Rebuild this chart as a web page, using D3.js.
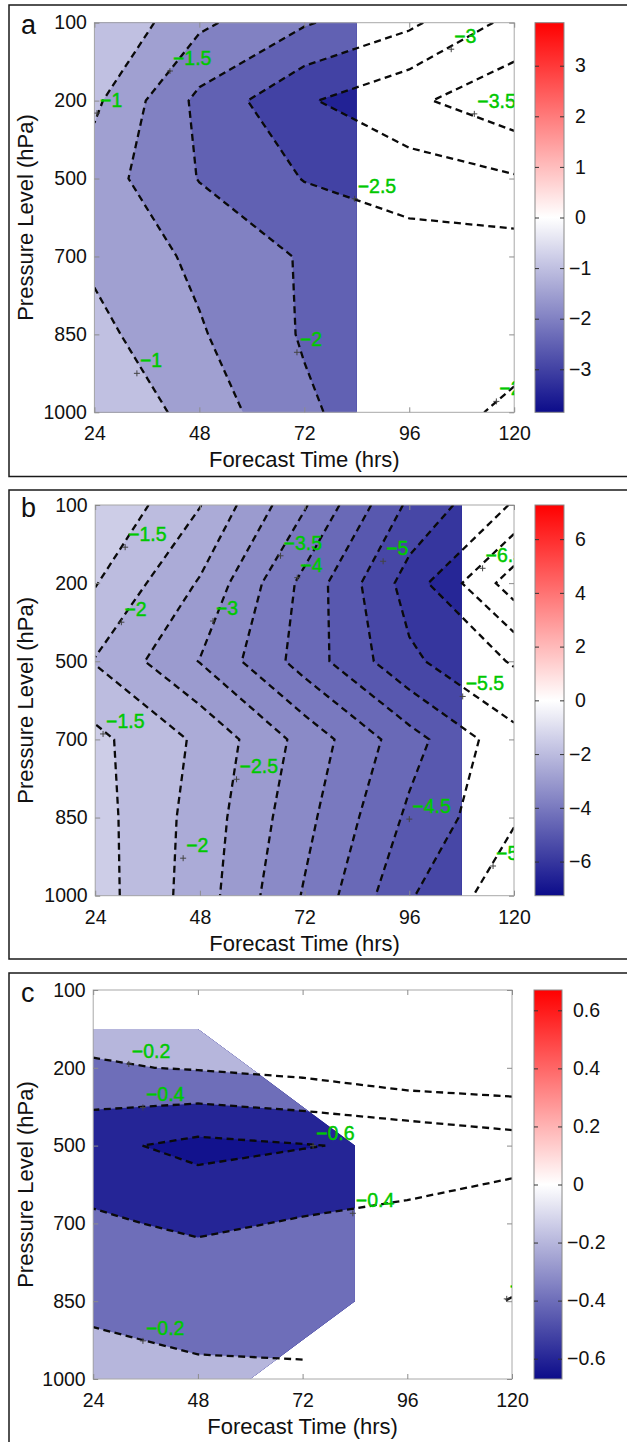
<!DOCTYPE html>
<html>
<head>
<meta charset="utf-8">
<script src="https://cdn.jsdelivr.net/npm/d3@7"></script>
<style>
  body { margin: 0; background: #fff; }
  svg { display: block; font-family: "Liberation Sans", Arial, Helvetica, sans-serif; }
</style>
</head>
<body>
<svg id="fig" width="627" height="1442"></svg>
<script>
// grid shared by all three panels
const forecastHours = [24, 48, 72, 96, 120];
const pressureLevels = [100, 200, 500, 700, 850, 1000];

// panel a: rows = pressure levels (top to bottom), cols = forecast hours
const valuesA = [
  [-0.47, -1.40, -1.95, -2.40, -3.15],
  [-0.90, -2.125, -2.94, -3.40, -3.85],
  [-1.25, -2.02, -2.52, -2.74, -2.95],
  [-1.10, -1.61, -2.05, -2.27, -2.25],
  [-0.85, -1.45, -2.05, -2.20, -2.32],
  [-0.51, -1.21, -1.91, -2.40, -1.84]
];
// 1 where the shaded field is defined
const maskA = [
  [1, 1, 1, 0, 0],
  [1, 1, 1, 0, 0],
  [1, 1, 1, 0, 0],
  [1, 1, 1, 0, 0],
  [1, 1, 1, 0, 0],
  [1, 1, 1, 0, 0]
];
const levelsA = [-3.5, -3, -2.5, -2, -1.5, -1];
const barTicksA = [-3, -2, -1, 0, 1, 2, 3];
const colorMaxA = 3.85;
// [level, col, row] in grid units
const labelsA = [
  [-1, 0.025, 1.16], [-1.5, 0.72, 0.62], [-2.5, 2.48, 2.26], [-2, 1.93, 4.23],
  [-1, 0.405, 4.5], [-3, 3.4, 0.34], [-3.5, 3.62, 1.17], [-2, 3.83, 4.86]
];

// panel b
const valuesB = [
  [-1.00, -1.98, -3.45, -5.10, -6.05],
  [-1.47, -2.55, -4.15, -5.72, -7.27],
  [-2.03, -3.02, -4.22, -5.40, -6.05],
  [-1.37, -2.09, -3.18, -4.30, -5.35],
  [-1.30, -2.20, -3.35, -4.60, -5.45],
  [-1.27, -2.25, -3.55, -4.95, -5.85]
];
const maskB = [
  [1, 1, 1, 1, 0],
  [1, 1, 1, 1, 0],
  [1, 1, 1, 1, 0],
  [1, 1, 1, 1, 0],
  [1, 1, 1, 1, 0],
  [1, 1, 1, 1, 0]
];
const levelsB = [-7, -6.5, -6, -5.5, -5, -4.5, -4, -3.5, -3, -2.5, -2, -1.5];
const barTicksB = [-6, -4, -2, 0, 2, 4, 6];
const colorMaxB = 7.27;
const labelsB = [
  [-1.5, 0.286, 0.54], [-2, 0.25, 1.5], [-1.5, 0.075, 2.93], [-2, 0.84, 4.52],
  [-3.5, 1.77, 0.65], [-4, 1.93, 0.93], [-3, 1.125, 1.485], [-2.5, 1.35, 3.51],
  [-5, 2.75, 0.72], [-4.5, 3.0, 4.02], [-5.5, 3.51, 2.45], [-6.5, 3.7, 0.81],
  [-5.5, 3.8, 4.62]
];

// panel c (NaN = no data for the contour lines)
const valuesC = [
  [-0.066, -0.05, -0.03, -0.02, -0.01],
  [-0.22, -0.186, -0.14, -0.051, -0.028],
  [-0.553, -0.653, -0.61, -0.564, -0.493],
  [-0.364, -0.441, -0.38, -0.33, -0.272],
  [-0.25, -0.213, -0.26, -0.25, -0.196],
  [-0.10, -0.194, -0.18, NaN, NaN]
];
const maskC = [
  [0, 0, 0, 0, 0],
  [1, 1, 0, 0, 0],
  [1, 1, 1, 0, 0],
  [1, 1, 1, 0, 0],
  [1, 1, 1, 0, 0],
  [1, 1, 0, 0, 0]
];
const levelsC = [-0.6, -0.4, -0.2];
const barTicksC = [-0.6, -0.4, -0.2, 0, 0.2, 0.4, 0.6];
const colorMaxC = 0.67;
const labelsC = [
  [-0.2, 0.34, 0.95], [-0.4, 0.475, 1.51], [-0.6, 2.1, 2.0], [-0.4, 2.48, 2.87],
  [-0.2, 0.475, 4.51], [-0.2, 3.95, 3.97]
];

// page layout (pixels)
const layout = [
  { id: "a", values: valuesA, mask: maskA, levels: levelsA, ticks: barTicksA, cmax: colorMaxA, labels: labelsA,
    boxTop: 5, boxBottom: 476.5, plot: [94.4, 22.7, 514.2, 412.3], bar: [535, 564] },
  { id: "b", values: valuesB, mask: maskB, levels: levelsB, ticks: barTicksB, cmax: colorMaxB, labels: labelsB,
    boxTop: 490, boxBottom: 959, plot: [95.2, 505, 514, 895.7], bar: [535, 564] },
  { id: "c", values: valuesC, mask: maskC, levels: levelsC, ticks: barTicksC, cmax: colorMaxC, labels: labelsC,
    boxTop: 973, boxBottom: 1470, plot: [93.2, 990, 512, 1379], bar: [534, 562] }
];

const NAVY = "#0c0c8a";
const labelGreen = "#00c800";
const fmt = d3.format("");
const svg = d3.select("#fig");

function colorFor(v, cmax) {
  const t = Math.min(1, Math.abs(v) / cmax);
  return v < 0 ? d3.interpolateRgb("#ffffff", NAVY)(t) : d3.interpolateRgb("#ffffff", "#ff0000")(t);
}

// marching squares on the grid, skipping cells that touch a NaN, joined into polylines
function traceLevel(grid, level) {
  const rows = grid.length, cols = grid[0].length;
  const segs = [];
  const cross = (p, q, P, Q) => {
    const t = (level - p) / (q - p);
    return [P[0] + t * (Q[0] - P[0]), P[1] + t * (Q[1] - P[1])];
  };
  for (let j = 0; j < rows - 1; j++) {
    for (let i = 0; i < cols - 1; i++) {
      const a = grid[j][i], b = grid[j][i + 1], c = grid[j + 1][i + 1], d = grid[j + 1][i];
      if ([a, b, c, d].some(v => isNaN(v))) continue;
      const pts = [];
      [[a, b, [i, j], [i + 1, j]], [b, c, [i + 1, j], [i + 1, j + 1]],
       [d, c, [i, j + 1], [i + 1, j + 1]], [a, d, [i, j], [i, j + 1]]].forEach(([p, q, P, Q]) => {
        if ((p >= level) !== (q >= level)) pts.push(cross(p, q, P, Q));
      });
      if (pts.length === 2) segs.push(pts);
      else if (pts.length === 4) { segs.push([pts[0], pts[3]]); segs.push([pts[1], pts[2]]); }
    }
  }
  const key = p => p[0].toFixed(6) + "," + p[1].toFixed(6);
  const used = new Array(segs.length).fill(false);
  const lines = [];
  for (let s = 0; s < segs.length; s++) {
    if (used[s]) continue;
    used[s] = true;
    const line = [segs[s][0], segs[s][1]];
    let grown = true;
    while (grown) {
      grown = false;
      for (let k = 0; k < segs.length; k++) {
        if (used[k]) continue;
        const [p, q] = segs[k];
        const head = key(line[0]), tail = key(line[line.length - 1]);
        if (key(p) === tail) { line.push(q); }
        else if (key(q) === tail) { line.push(p); }
        else if (key(p) === head) { line.unshift(q); }
        else if (key(q) === head) { line.unshift(p); }
        else continue;
        used[k] = true;
        grown = true;
      }
    }
    lines.push(line);
  }
  return lines;
}

function drawPanel(cfg) {
  const [left, top, right, bottom] = cfg.plot;
  const rows = cfg.values.length, cols = cfg.values[0].length;
  const x = d3.scaleLinear().domain([0, cols - 1]).range([left, right]);
  const y = d3.scaleLinear().domain([0, rows - 1]).range([top, bottom]);
  const g = svg.append("g");

  // outer frame of the panel
  g.append("rect")
    .attr("x", 9).attr("y", cfg.boxTop)
    .attr("width", 640).attr("height", cfg.boxBottom - cfg.boxTop)
    .attr("fill", "none").attr("stroke", "#1a1a1a").attr("stroke-width", 1.5);

  const defs = g.append("defs");
  defs.append("clipPath").attr("id", "plot-" + cfg.id)
    .append("rect").attr("x", left).attr("y", top).attr("width", right - left).attr("height", bottom - top);

  // d3.contours puts value k at k + 0.5
  const proj = d3.geoTransform({
    point(px, py) { this.stream.point(x(px - 0.5), y(py - 0.5)); }
  });
  const path = d3.geoPath(proj);

  const maskShape = d3.contours().size([cols, rows]).thresholds([0.5])(cfg.mask.flat())[0];
  defs.append("clipPath").attr("id", "mask-" + cfg.id)
    .append("path").attr("d", path(maskShape));

  // shaded bands
  const fillGrid = cfg.values.map(row => {
    let last = 0;
    return row.map(v => isNaN(v) ? last : (last = v));
  });
  const flat = fillGrid.flat();
  const dataMin = d3.min(flat);
  const fillG = g.append("g").attr("clip-path", `url(#plot-${cfg.id})`)
    .append("g").attr("clip-path", `url(#mask-${cfg.id})`);
  fillG.append("rect")
    .attr("x", left).attr("y", top).attr("width", right - left).attr("height", bottom - top)
    .attr("fill", colorFor(dataMin, cfg.cmax));
  fillG.selectAll("path.band")
    .data(d3.contours().size([cols, rows]).thresholds(cfg.levels)(flat))
    .join("path")
    .attr("class", "band")
    .attr("d", path)
    .attr("fill", d => colorFor(d.value, cfg.cmax));

  // dashed contour lines
  const line = d3.line().x(p => x(p[0])).y(p => y(p[1]));
  const lineG = g.append("g").attr("clip-path", `url(#plot-${cfg.id})`);
  cfg.levels.forEach(level => {
    traceLevel(cfg.values, level).forEach(pts => {
      lineG.append("path")
        .attr("d", line(pts))
        .attr("fill", "none")
        .attr("stroke", "#0a0a0a")
        .attr("stroke-width", 2.3)
        .attr("stroke-dasharray", "7,4.5");
    });
  });

  // plot box and inward ticks
  g.append("rect")
    .attr("x", left).attr("y", top).attr("width", right - left).attr("height", bottom - top)
    .attr("fill", "none").attr("stroke", "#a8a8a8").attr("stroke-width", 1);

  const idxX = d3.range(cols), idxY = d3.range(rows);
  const styleAxis = sel => {
    sel.select(".domain").remove();
    sel.selectAll(".tick line").attr("stroke", "#8c8c8c");
    sel.selectAll(".tick text").attr("fill", "#111").style("font-size", "19.5px");
  };
  g.append("g").attr("transform", `translate(0,${bottom})`)
    .call(d3.axisBottom(x).tickValues(idxX).tickFormat(i => forecastHours[i]).tickSizeInner(-5).tickSizeOuter(0).tickPadding(14.2))
    .call(styleAxis);
  g.append("g").attr("transform", `translate(0,${top})`)
    .call(d3.axisTop(x).tickValues(idxX).tickFormat("").tickSizeInner(-5).tickSizeOuter(0))
    .call(styleAxis);
  g.append("g").attr("transform", `translate(${left},0)`)
    .call(d3.axisLeft(y).tickValues(idxY).tickFormat(j => pressureLevels[j]).tickSizeInner(-5).tickSizeOuter(0).tickPadding(7.5))
    .call(styleAxis);
  g.append("g").attr("transform", `translate(${right},0)`)
    .call(d3.axisRight(y).tickValues(idxY).tickFormat("").tickSizeInner(-5).tickSizeOuter(0))
    .call(styleAxis);

  // contour labels
  const labG = g.append("g").attr("clip-path", `url(#plot-${cfg.id})`);
  cfg.labels.forEach(([level, c, r]) => {
    const px = x(c), py = y(r);
    labG.append("path")
      .attr("d", `M${px - 3},${py}H${px + 3}M${px},${py - 3}V${py + 3}`)
      .attr("stroke", "#444").attr("stroke-width", 1);
    labG.append("text")
      .attr("x", px + 3).attr("y", py - 6)
      .attr("fill", labelGreen)
      .attr("stroke", labelGreen).attr("stroke-width", 0.45)
      .style("font-size", "19.5px")
      .text(fmt(level));
  });

  // axis titles and panel letter
  g.append("text")
    .attr("x", (left + right) / 2).attr("y", bottom + 55)
    .attr("text-anchor", "middle").style("font-size", "22px").attr("fill", "#111")
    .text("Forecast Time (hrs)");
  const cy = (top + bottom) / 2;
  g.append("text")
    .attr("transform", `translate(33,${cy}) rotate(-90)`)
    .attr("text-anchor", "middle").style("font-size", "22px").attr("fill", "#111")
    .text("Pressure Level (hPa)");
  g.append("text")
    .attr("x", 21).attr("y", top + 11.5)
    .style("font-size", "27px").attr("fill", "#111")
    .text(cfg.id);

  // colour bar
  const [bx0, bx1] = cfg.bar;
  const cb = d3.scaleLinear().domain([-cfg.cmax, cfg.cmax]).range([bottom, top]);
  const grad = defs.append("linearGradient").attr("id", "grad-" + cfg.id)
    .attr("x1", 0).attr("y1", 0).attr("x2", 0).attr("y2", 1);
  d3.range(0, 1.0001, 0.05).forEach(o => {
    grad.append("stop").attr("offset", o).attr("stop-color", colorFor(cfg.cmax * (1 - 2 * o), cfg.cmax));
  });
  g.append("rect")
    .attr("x", bx0).attr("y", top).attr("width", bx1 - bx0).attr("height", bottom - top)
    .attr("fill", `url(#grad-${cfg.id})`).attr("stroke", "#8a8a8a").attr("stroke-width", 1);
  g.append("g").attr("transform", `translate(${bx1},0)`)
    .call(d3.axisRight(cb).tickValues(cfg.ticks).tickFormat(fmt).tickSizeInner(-4).tickSizeOuter(0).tickPadding(5))
    .call(sel => {
      sel.select(".domain").remove();
      sel.selectAll(".tick line").attr("stroke", "#333");
      sel.selectAll(".tick text").attr("fill", "#111").style("font-size", "19.5px")
        .attr("x", d => d < 0 ? 5 : 11);
    });
  g.append("g").attr("transform", `translate(${bx0},0)`)
    .call(d3.axisLeft(cb).tickValues(cfg.ticks).tickFormat("").tickSizeInner(-4).tickSizeOuter(0))
    .call(sel => {
      sel.select(".domain").remove();
      sel.selectAll(".tick line").attr("stroke", "#333");
    });
}

layout.forEach(drawPanel);
</script>
</body>
</html>
